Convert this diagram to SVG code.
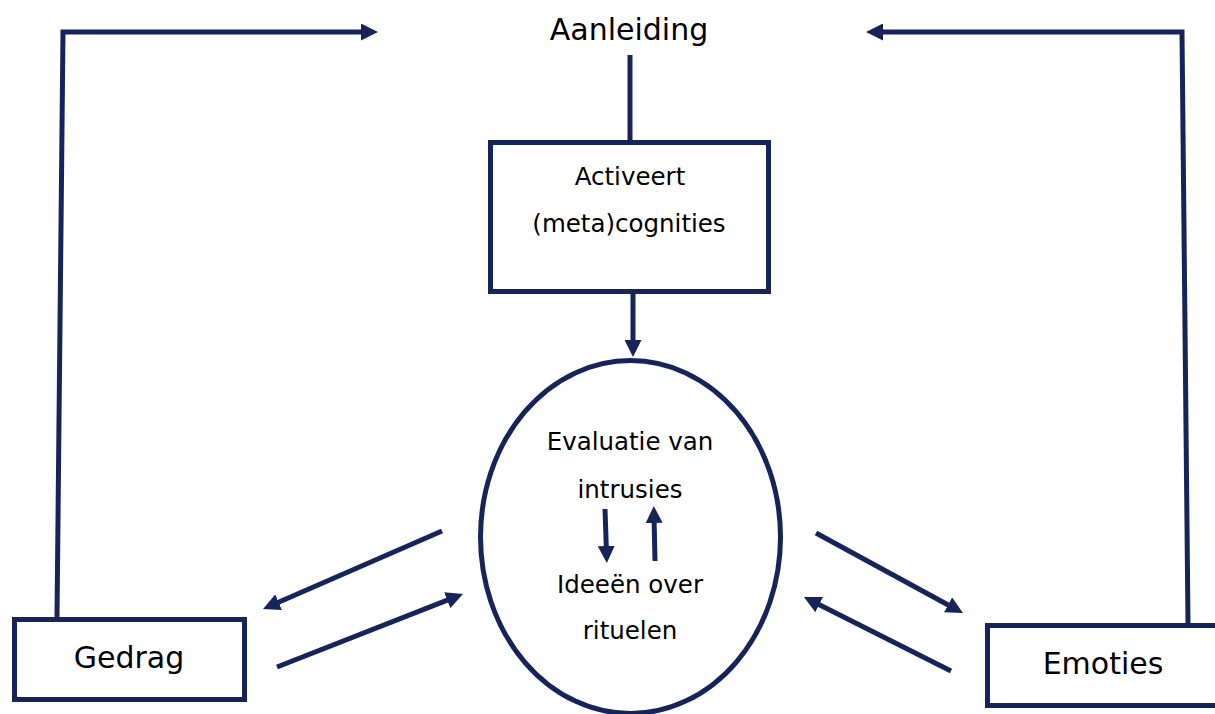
<svg xmlns="http://www.w3.org/2000/svg" width="1215" height="714" viewBox="0 0 1215 714">
<style>
.ln{fill:none;stroke:#172459;stroke-width:5;stroke-linejoin:miter}
.arr{marker-end:url(#ah)}
.box{fill:#fff;stroke:#172459;stroke-width:5}
.t{font-family:"DejaVu Sans",Verdana,sans-serif;fill:#000;text-anchor:middle}
.big{font-size:30px}
.mid{font-size:24.5px}
</style>
<defs>
<marker id="ah" viewBox="0 0 17 17" refX="7" refY="8.5" markerWidth="17" markerHeight="17" markerUnits="userSpaceOnUse" orient="auto">
<path d="M0,0 L17,8.5 L0,17 z" fill="#172459"/>
</marker>
</defs>
<rect width="1215" height="714" fill="#fff"/>
<g id="connectors">
<path class="ln arr" d="M57,617 L63,32 L368,32"/>
<path class="ln arr" d="M1188,623 L1182,32 L876,32"/>
<path class="ln" d="M630,55 L630,141"/>
<path class="ln arr" d="M633,293 L633,347"/>
<path class="ln arr" d="M442,531 L272.2,605"/>
<path class="ln arr" d="M277,667 L453.7,597.7"/>
<path class="ln arr" d="M816,533 L954.2,608.2"/>
<path class="ln arr" d="M951,671 L812.9,601.5"/>
</g>
<g id="aanleiding">
<text class="t big" x="629" y="40">Aanleiding</text>
</g>
<g id="activeert">
<rect class="box" x="490.5" y="142.5" width="278" height="149"/>
<text class="t mid" x="630" y="185">Activeert</text>
<text class="t mid" x="629" y="232">(meta)cognities</text>
</g>
<g id="evaluatie">
<ellipse class="box" cx="630.5" cy="537" rx="150" ry="176.5"/>
<text class="t mid" x="630" y="450">Evaluatie van</text>
<text class="t mid" x="630" y="498">intrusies</text>
<text class="t mid" x="630" y="593">Ideeën over</text>
<text class="t mid" x="630" y="639">rituelen</text>
<path class="ln arr" d="M605,509 L606.5,553"/>
<path class="ln arr" d="M655,561 L654,516"/>
</g>
<g id="gedrag">
<rect class="box" x="14.5" y="619.5" width="230" height="80"/>
<text class="t big" x="129" y="668">Gedrag</text>
</g>
<g id="emoties">
<rect class="box" x="987.5" y="625.5" width="235" height="80"/>
<text class="t big" x="1103" y="674">Emoties</text>
</g>
</svg>
